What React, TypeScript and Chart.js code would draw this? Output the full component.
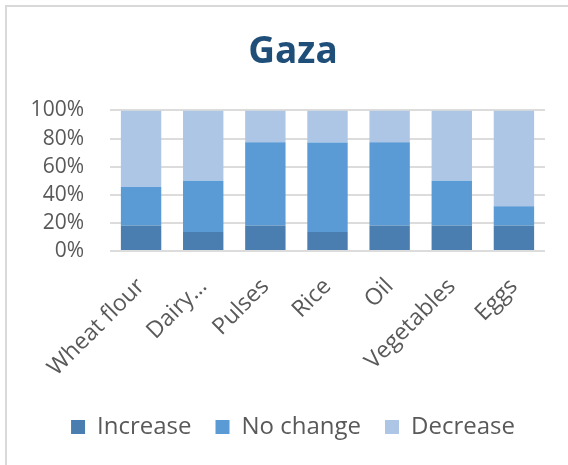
import React, { useEffect, useRef } from "react";
import { Chart, registerables } from "chart.js";

Chart.register(...registerables);

const categories = ["Wheat flour", "Dairy…", "Pulses", "Rice", "Oil", "Vegetables", "Eggs"];
const increase = [18.2, 13.6, 18.2, 13.6, 18.2, 18.2, 18.2];
const noChange = [27.3, 36.4, 59.1, 63.6, 59.1, 31.8, 13.6];
const decrease = [54.5, 50.0, 22.7, 22.8, 22.7, 50.0, 68.2];
const yTicks = [0, 20, 40, 60, 80, 100];

const FONT = "'Open Sans', 'DejaVu Sans', sans-serif";

export default function App() {
  const ref = useRef<HTMLCanvasElement | null>(null);

  useEffect(() => {
    document.body.style.margin = "0";
    const canvas = ref.current;
    if (!canvas) return;
    const chart = new Chart(canvas, {
      type: "bar",
      data: {
        labels: categories,
        datasets: [
          { label: "Increase", data: increase, backgroundColor: "#4a7eb0" },
          { label: "No change", data: noChange, backgroundColor: "#5b9bd5" },
          { label: "Decrease", data: decrease, backgroundColor: "#aec6e6" },
        ],
      },
      options: {
        responsive: false,
        animation: false,
        devicePixelRatio: 1,
        layout: { padding: { left: 0, right: 0, top: 0, bottom: 16 } },
        datasets: { bar: { categoryPercentage: 1, barPercentage: 0.65, borderWidth: 0 } },
        plugins: {
          title: {
            display: true,
            text: "Gaza",
            color: "#1f4e79",
            font: { family: FONT, size: 37, weight: "bold" },
            padding: { top: 23, bottom: 36 },
          },
          legend: {
            position: "bottom",
            labels: {
              boxWidth: 14,
              boxHeight: 14,
              padding: 24,
              color: "#595959",
              font: { family: FONT, size: 24 },
            },
          },
          tooltip: { enabled: false },
        },
        scales: {
          x: {
            stacked: true,
            grid: { display: false, drawTicks: false },
            border: { display: false },
            ticks: {
              color: "#595959",
              font: { family: FONT, size: 23 },
              maxRotation: 45,
              minRotation: 45,
              padding: 22,
              autoSkip: false,
            },
            afterFit: (scale: any) => {
              scale.height = 140;
            },
          },
          y: {
            stacked: true,
            min: 0,
            max: 100,
            afterBuildTicks: (scale: any) => {
              scale.ticks = yTicks.map((v) => ({ value: v }));
            },
            grid: { color: "#dcdcdc", lineWidth: 2, drawTicks: false },
            border: { display: false },
            ticks: {
              color: "#595959",
              font: { family: FONT, size: 21 },
              padding: 26,
              autoSkip: false,
              callback: (v: any) => `${v}%`,
            },
            afterFit: (scale: any) => {
              scale.width = 103;
            },
          },
          spacer: {
            type: "linear",
            position: "right",
            display: true,
            grid: { display: false, drawTicks: false },
            border: { display: false },
            ticks: { display: false },
            afterFit: (scale: any) => {
              scale.width = 34;
            },
          },
        },
      },
    });
    return () => chart.destroy();
  }, []);

  return (
    <div style={{ position: "relative", width: 568, height: 465, overflow: "hidden", background: "#fff" }}>
      <div
        style={{
          position: "absolute",
          left: 5,
          top: 5,
          width: 600,
          height: 500,
          borderTop: "2px solid #d9d9d9",
          borderLeft: "2px solid #d9d9d9",
        }}
      >
        <canvas ref={ref} width={572} height={458} style={{ display: "block", width: 572, height: 458 }} />
      </div>
    </div>
  );
}
